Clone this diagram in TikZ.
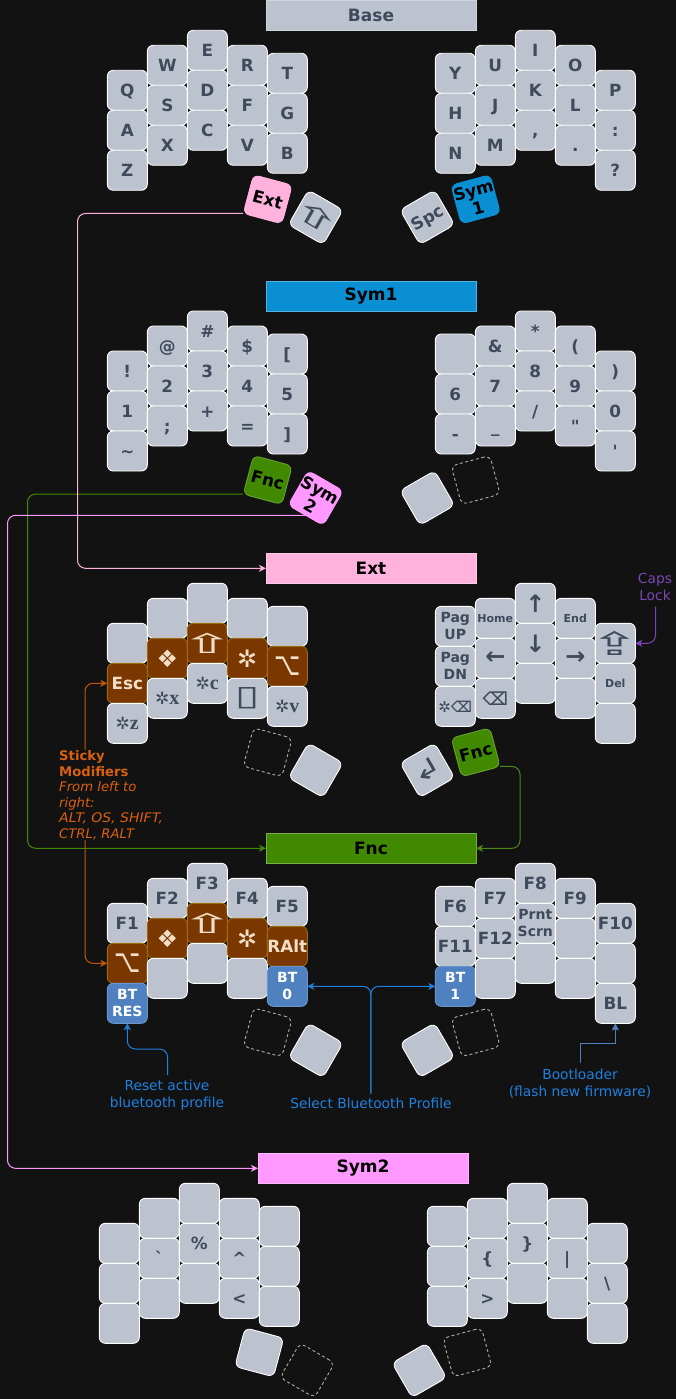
\documentclass[tikz,border=0pt]{standalone}
\usepackage{fontspec}
\usepackage{graphicx}
\usetikzlibrary{arrows.meta}
\newfontfamily\djv{DejaVu Sans}
\newfontfamily\lserif{Liberation Serif}
\definecolor{bgc}{HTML}{121212}
\definecolor{keyc}{HTML}{BCC3CE}
\definecolor{inkc}{HTML}{3F4A5C}
\definecolor{modc}{HTML}{7A3800}
\definecolor{modb}{HTML}{9C6A12}
\definecolor{modt}{HTML}{F2DFC8}
\definecolor{btc}{HTML}{4F80C0}
\definecolor{btb}{HTML}{6A95CC}
\definecolor{symac}{HTML}{0A8FD2}
\definecolor{extc}{HTML}{FFB3DC}
\definecolor{fncc}{HTML}{418A00}
\definecolor{symbc}{HTML}{FF99FF}
\definecolor{purp}{HTML}{7A45B5}
\definecolor{orng}{HTML}{D9600F}
\definecolor{blu}{HTML}{2080E0}
\tikzset{
  x=1pt,y=-1pt,
  keyb/.style={rectangle,rounded corners=6pt,draw=white,line width=.9pt,fill=keyc,
    minimum width=40pt,minimum height=40pt,inner sep=0pt,outer sep=0pt,
    text=inkc,font=\djv\bfseries\fontsize{16.8}{18.5}\selectfont,
    text height=12.2pt,text depth=0pt,align=center},
  ml/.style={text height=,text depth=},
  small/.style={ml,font=\djv\bfseries\fontsize{14}{17}\selectfont},
  tiny/.style={ml,font=\djv\bfseries\fontsize{11}{12}\selectfont},
  ic/.style={ml,font=\djv\bfseries\fontsize{#1}{#1}\selectfont},
  icr/.style={ml,font=\djv\fontsize{#1}{#1}\selectfont},
  modk/.style={fill=modc,draw=modb,text=modt},
  btk/.style={fill=btc,draw=btb,text=white,small},
  dashk/.style={draw=gray!65,fill=none,dashed,dash pattern=on 3pt off 2.5pt},
  blk/.style={text=black},
  titleb/.style={rectangle,minimum width=210pt,minimum height=30pt,inner sep=0pt,outer sep=0pt,
    line width=.7pt,text=black,font=\djv\bfseries\fontsize{17}{18}\selectfont},
  conn/.style={line width=1pt,rounded corners=8pt,-{Stealth[length=7pt,width=7pt,inset=2pt]}},
  lab/.style={inner sep=0pt,align=center,font=\djv\fontsize{13.8}{17}\selectfont},
}
\def\ox{0}\def\oy{0}
\newcommand\Col[9]{%
  \node[keyb,#4] (#1a) at (#2+\ox,#3+\oy) {#5};
  \node[keyb,#6] (#1b) at (#2+\ox,#3+\oy+40) {#7};
  \node[keyb,#8] (#1c) at (#2+\ox,#3+\oy+80) {#9};}
\newcommand\Sx[1]{{\fontsize{17}{17}\selectfont ✲}{\lserif\bfseries\fontsize{20}{20}\selectfont #1}}
\newcommand\Sh{\makebox[0pt]{\scalebox{2.4}[1]{⇧}}}
\newcommand\Al{\makebox[0pt]{\scalebox{0.95}[1.35]{⌥}}}
\begin{document}
\begin{tikzpicture}
\useasboundingbox (0,0) rectangle (676,1399);
\fill[bgc] (0,0) rectangle (676,1399);
% titles
\node[titleb,fill=keyc,draw=keyc!70!white,text=inkc] (tBase) at (371,15.3) {Base};
\node[titleb,fill=symac,draw=symac!70!white] (tSymA) at (371,296) {Sym1};
\node[titleb,fill=extc,draw=extc!70!white] (tExt) at (371,568.3) {Ext};
\node[titleb,fill=fncc,draw=fncc!70!white] (tFnc) at (371,848.3) {Fnc};
\node[titleb,fill=symbc,draw=symbc!70!white] (tSymB) at (363,1168.3) {Sym2};
% Base
\Col{ba}{127.3}{90.3}{}{Q}{}{A}{}{Z}
\Col{bb}{167.3}{65.3}{}{W}{}{S}{}{X}
\Col{bc}{207.3}{50.3}{}{E}{}{D}{}{C}
\Col{bd}{247.3}{65.3}{}{R}{}{F}{}{V}
\Col{be}{287.3}{73.3}{}{T}{}{G}{}{B}
\Col{bf}{455.3}{73.3}{}{Y}{}{H}{}{N}
\Col{bg}{495.3}{65.3}{}{U}{}{J}{}{M}
\Col{bh}{535.3}{50.3}{}{I}{}{K}{}{,}
\Col{bi}{575.3}{65.3}{}{O}{}{L}{}{.}
\Col{bj}{615.3}{90.3}{}{P}{}{:}{}{?}
\node[keyb,fill=extc,draw=extc,blk,rotate=-15] (kExt) at (267.7,199.3) {Ext};
\node[keyb,icr=27,rotate=-30] (kShift) at (315.7,217.3) {\Sh};
\node[keyb,rotate=30] (kSpc) at (427.3,217.3) {Spc};
\node[keyb,ml,fill=symac,draw=symac,blk,rotate=15] (kSymA) at (475.7,199.3) {Sym\\1};
% Sym1
\def\oy{280.7}
\Col{sa}{127.3}{90.3}{}{!}{}{1}{}{\textasciitilde}
\Col{sb}{167.3}{65.3}{}{@}{}{2}{}{;}
\Col{sc}{207.3}{50.3}{}{\#}{}{3}{}{+}
\Col{sd}{247.3}{65.3}{}{\$}{}{4}{}{=}
\Col{se}{287.3}{73.3}{}{[}{}{5}{}{]}
\Col{sf}{455.3}{73.3}{}{}{}{6}{}{-}
\Col{sg}{495.3}{65.3}{}{\&}{}{7}{}{\_}
\Col{sh}{535.3}{50.3}{}{*}{}{8}{}{/}
\Col{si}{575.3}{65.3}{}{(}{}{9}{}{"}
\Col{sj}{615.3}{90.3}{}{)}{}{0}{}{'}
\node[keyb,fill=fncc,draw=fncc!80!white,blk,rotate=-15] (kFncA) at (267.7,480) {Fnc};
\node[keyb,ml,fill=symbc,draw=symbc,blk,rotate=-30] (kSymB) at (315.7,498) {Sym\\2};
\node[keyb,rotate=30] (sTa) at (427.3,498) {};
\node[keyb,dashk,rotate=15] (sTb) at (475.7,480) {};
% Ext
\def\oy{553}
\Col{ea}{127.3}{90.3}{}{}{modk}{Esc}{ml}{\Sx{z}}
\Col{eb}{167.3}{65.3}{}{}{modk,ic=24}{❖}{ml}{\Sx{x}}
\Col{ec}{207.3}{50.3}{}{}{modk,icr=27}{\Sh}{ml}{\Sx{c}}
\Col{ed}{247.3}{65.3}{}{}{modk,ic=24}{✲}{ic=28}{\makebox[0pt]{\scalebox{1.6}[1]{▯}}}
\Col{ee}{287.3}{73.3}{}{}{modk,icr=24}{\Al}{ml}{\Sx{v}}
\Col{ef}{455.3}{73.3}{small}{Pag\\UP}{small}{Pag\\DN}{ic=15}{✲⌫}
\Col{eg}{495.3}{65.3}{tiny}{Home}{ic=24}{←}{ic=18}{⌫}
\Col{eh}{535.3}{50.3}{ic=24}{↑}{ic=24}{↓}{}{}
\Col{ei}{575.3}{65.3}{tiny}{End}{ic=24}{→}{}{}
\Col{ej}{615.3}{90.3}{icr=32}{\makebox[0pt]{\scalebox{1.9}[1]{⇪}}}{tiny}{Del}{}{}
\node[keyb,dashk,rotate=-15] (eTa) at (267.7,752.3) {};
\node[keyb,rotate=-30] (eTb) at (315.7,770.3) {};
\node[keyb,icr=26,rotate=30] (kRet) at (427.3,770.3) {\makebox[0pt]{\scalebox{1.4}[1]{↲}}};
\node[keyb,fill=fncc,draw=fncc!80!white,blk,rotate=15] (kFncB) at (475.7,752.3) {Fnc};
% Fnc
\def\oy{833}
\Col{fa}{127.3}{90.3}{}{F1}{modk,icr=24}{\Al}{btk}{BT\\RES}
\Col{fb}{167.3}{65.3}{}{F2}{modk,ic=24}{❖}{}{}
\Col{fc}{207.3}{50.3}{}{F3}{modk,icr=27}{\Sh}{}{}
\Col{fd}{247.3}{65.3}{}{F4}{modk,ic=24}{✲}{}{}
\Col{fe}{287.3}{73.3}{}{F5}{modk}{RAlt}{btk}{BT\\0}
\Col{ff}{455.3}{73.3}{}{F6}{}{F11}{btk}{BT\\1}
\Col{fg}{495.3}{65.3}{}{F7}{}{F12}{}{}
\Col{fh}{535.3}{50.3}{}{F8}{small}{Prnt\\Scrn}{}{}
\Col{fi}{575.3}{65.3}{}{F9}{}{}{}{}
\Col{fj}{615.3}{90.3}{}{F10}{}{}{}{BL}
\node[keyb,dashk,rotate=-15] (fTa) at (267.7,1032.3) {};
\node[keyb,rotate=-30] (fTb) at (315.7,1050.3) {};
\node[keyb,rotate=30] (fTc) at (427.3,1050.3) {};
\node[keyb,dashk,rotate=15] (fTd) at (475.7,1032.3) {};
% Sym2
\def\ox{-8}\def\oy{1153}
\Col{ga}{127.3}{90.3}{}{}{}{}{}{}
\Col{gb}{167.3}{65.3}{}{}{}{`}{}{}
\Col{gc}{207.3}{50.3}{}{}{}{\%}{}{}
\Col{gd}{247.3}{65.3}{}{}{}{\textasciicircum}{}{<}
\Col{ge}{287.3}{73.3}{}{}{}{}{}{}
\Col{gf}{455.3}{73.3}{}{}{}{}{}{}
\Col{gg}{495.3}{65.3}{}{}{}{\{}{}{>}
\Col{gh}{535.3}{50.3}{}{}{}{\}}{}{}
\Col{gi}{575.3}{65.3}{}{}{}{|}{}{}
\Col{gj}{615.3}{90.3}{}{}{}{\textbackslash}{}{}
\node[keyb,rotate=-15] (gTa) at (259.3,1352.3) {};
\node[keyb,dashk,rotate=-30] (gTb) at (307.3,1370.3) {};
\node[keyb,rotate=30] (gTc) at (419.3,1370.3) {};
\node[keyb,dashk,rotate=15] (gTd) at (467.3,1352.3) {};
% labels
\node[lab,text=purp,anchor=center] (nCaps) at (655,586.5) {Caps\\Lock};
\node[lab,text=blu] (nReset) at (167,1095) {Reset active\\bluetooth profile};
\node[lab,text=blu] (nSelect) at (371,1103) {Select Bluetooth Profile};
\node[lab,text=blu] (nBoot) at (580,1083.5) {Bootloader\\(flash new firmware)};
\node[anchor=north west,inner sep=0pt,align=left,text=orng,font=\djv\fontsize{13.2}{15.5}\selectfont] (nSticky) at (59,750.5)
  {\textbf{Sticky}\\\textbf{Modifiers}\\\textit{From left to}\\\textit{right:}\\\textit{\scalebox{1.06}[1]{ALT, OS, SHIFT,}}\\\textit{CTRL, RALT}};
% connector way-points
\coordinate (extBus) at (77.5,400);
\coordinate (fncBus) at (27.5,700);
\coordinate (symBus) at (7.5,800);
\coordinate (fncRight) at (520,800);
\coordinate (stickyT) at (85,750);
\coordinate (stickyB) at (85,840);
\coordinate (capsS) at (655.5,606.5);
\coordinate (resetS) at (167.5,1075);
\coordinate (resetB) at (147,1049);
\coordinate (selS) at (370.8,1093.5);
\coordinate (bootS) at (580,1063);
\coordinate (bootB) at (600,1043.7);
% connectors
\draw[conn,color=fncc] (kFncA.south west) -| (fncBus) |- (tFnc.west);
\draw[conn,color=symbc] (kSymB.south) -| (symBus) |- (tSymB.west);
\draw[conn,color=extc] (kExt.south west) -| (extBus) |- (tExt.west);
\draw[conn,color=fncc!80!gray] (kFncB.south east) -| (fncRight) |- (tFnc.east);
\draw[conn,color=orng!90!black] (stickyT) |- (eab.west);
\draw[conn,color=orng!90!black] (stickyB) |- (fab.west);
\draw[conn,color=purp] (capsS) |- (eja.east);
\draw[conn,color=blu] (resetS) |- (resetB) -| (fac.south);
\draw[conn,color=blu] (selS) |- (fec.east);
\draw[conn,color=blu] (selS) |- (ffc.west);
\draw[line width=1pt,color=btc!90!gray,-{Stealth[length=7pt,width=7pt,inset=1pt]}] (bootS) |- (bootB) -| (fjc.south);
\end{tikzpicture}
\end{document}
